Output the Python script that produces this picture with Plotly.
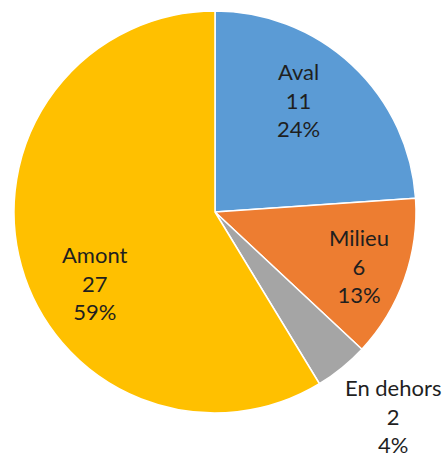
import plotly.graph_objects as go

categories = ["Aval", "Milieu", "En dehors", "Amont"]
values = [11, 6, 2, 27]
colors = ["#5B9BD5", "#ED7D31", "#A5A5A5", "#FFC000"]

W, H = 442, 457
total = sum(values)

fig = go.Figure(go.Pie(
    labels=categories,
    values=values,
    sort=False,
    direction="clockwise",
    rotation=0,
    marker=dict(colors=colors, line=dict(color="white", width=1.5)),
    textinfo="none",
    hoverinfo="label+value+percent",
    domain=dict(x=[14 / W, 416 / W], y=[1 - 413 / H, 1 - 11 / H]),
    showlegend=False,
))

# label anchor positions (pixels) chosen to mimic the reference layout
label_pos = [(298, 100), (359, 266), (393, 416), (95, 283)]
for cat, val, (px, py) in zip(categories, values, label_pos):
    pct = round(100 * val / total)
    fig.add_annotation(
        x=px / W, y=1 - py / H, xref="paper", yref="paper",
        text=f"{cat}<br>{val}<br>{pct}%",
        showarrow=False, xanchor="center", yanchor="middle",
        font=dict(family="Lato", size=22, color="#1f1f1f"),
        align="center",
    )

fig.update_layout(
    width=W, height=H,
    margin=dict(l=0, r=0, t=0, b=0),
    paper_bgcolor="white", plot_bgcolor="white",
)
fig.write_html(
    "out.html",
    config={"displayModeBar": False},
    post_script="document.body.style.margin='0';document.body.style.overflow='hidden';",
)
